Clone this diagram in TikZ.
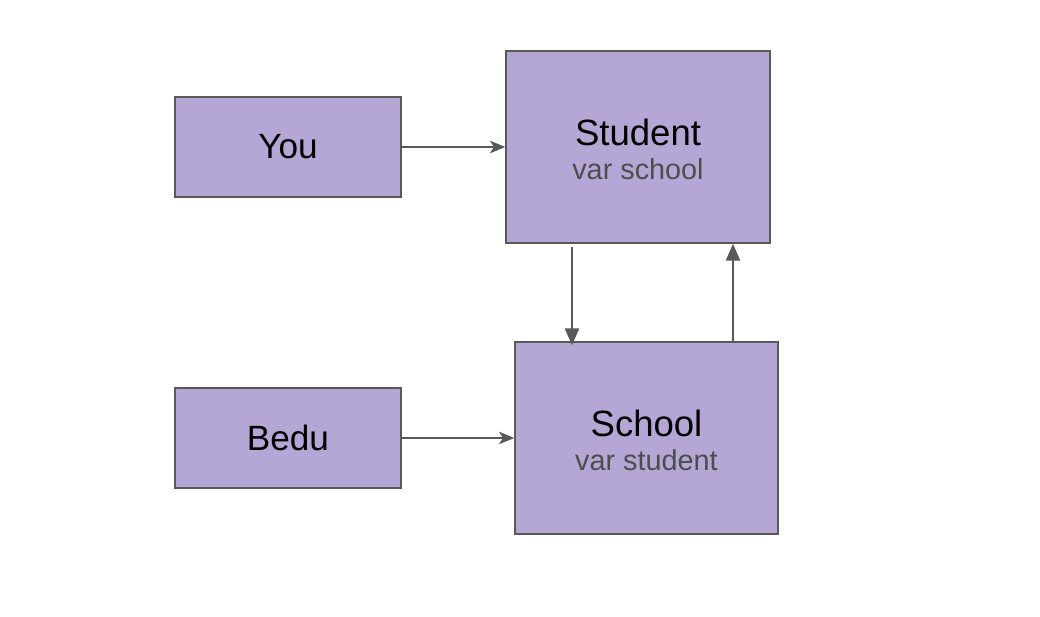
\documentclass[tikz,border=0pt]{standalone}
\usepackage{fontspec}
\setmainfont{Liberation Sans}
\usepackage{tikz}
\usetikzlibrary{arrows.meta,positioning}
\usepackage{xcolor}
\definecolor{boxfill}{RGB}{180,167,214}
\definecolor{boxline}{RGB}{89,89,89}
\definecolor{subgrey}{RGB}{77,77,77}
\tikzstyle{hline} = [line width=0.8pt,-{Stealth[length=11pt,width=9pt,inset=3pt]},color=boxline]
\tikzstyle{vline} = [line width=1.4pt,-{Triangle[length=12pt,width=10pt]},color=boxline]
\tikzstyle{classbox} = [rectangle, minimum width=6.6cm, minimum height=4.8cm, draw=boxline, fill=boxfill, line width=1pt]
\tikzstyle{userbox} = [rectangle, minimum width=5.65cm, minimum height=2.5cm, draw=boxline, fill=boxfill, line width=1pt, font=\fontsize{25}{30}\selectfont]

\begin{document}
\begin{tikzpicture}
\useasboundingbox (0,0) rectangle (26,-15.4);
% Users
\node[userbox] (you) at (7.2,-3.675) {You};
\node[userbox] (bedu) at (7.2,-10.95) {Bedu};

% Classes
\node[classbox] (student) at (15.95,-3.675) {};
\node[anchor=base, font=\fontsize{26}{30}\selectfont] (studentname) at (15.95,-3.625) {Student};
\node[anchor=base, font=\fontsize{20.5}{24}\selectfont, text=subgrey] (studentvar) at (15.95,-4.475) {var school};

\node[classbox, minimum width=6.575cm] (school) at (16.1625,-10.95) {};
\node[anchor=base, font=\fontsize{26}{30}\selectfont] (schoolname) at (16.1625,-10.9) {School};
\node[anchor=base, font=\fontsize{20.5}{24}\selectfont, text=subgrey] (schoolvar) at (16.1625,-11.75) {var student};

% Flows
\draw[hline] (you) -- (you -| student.west);
\draw[hline] (bedu) -- (bedu -| school.west);
\draw[vline] ([xshift=-1.65cm,yshift=-0.075cm]student.south) -- ([xshift=-1.65cm,yshift=-0.1cm]student.south |- school.north);
\draw[vline] ([xshift=2.1625cm]school.north) -- ([xshift=2.1625cm]school.north |- student.south);
\end{tikzpicture}
\end{document}
